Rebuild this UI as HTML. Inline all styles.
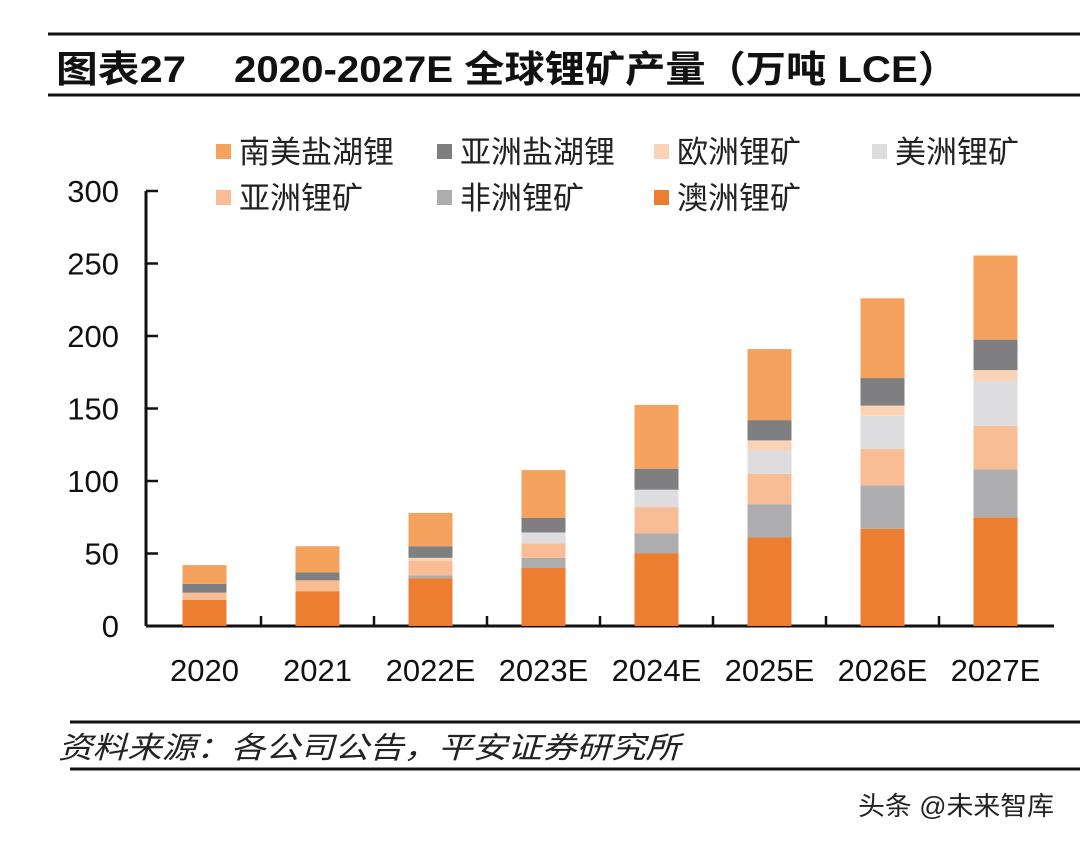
<!DOCTYPE html>
<html><head><meta charset="utf-8">
<style>
html,body{margin:0;padding:0;background:#fff;}
svg{display:block;}
text{font-family:"Liberation Sans","Noto Sans CJK SC",sans-serif;}
</style></head>
<body>
<svg id="chart" width="1080" height="841" viewBox="0 0 1080 841">
<rect x="0" y="0" width="1080" height="841" fill="#fff"/>
<line x1="48" y1="34" x2="1080" y2="34" stroke="#111" stroke-width="3"/>
<text x="56" y="82" font-size="37" font-weight="bold" fill="#111" textLength="130" lengthAdjust="spacingAndGlyphs">图表27</text>
<text x="234" y="82" font-size="37" font-weight="bold" fill="#111" textLength="724" lengthAdjust="spacingAndGlyphs">2020-2027E 全球锂矿产量（万吨 LCE）</text>
<line x1="48" y1="95" x2="1080" y2="95" stroke="#111" stroke-width="3"/>
<g id="legend"></g>
<g id="axes"></g>
<g id="bars"></g>
<line x1="70" y1="722" x2="1080" y2="722" stroke="#111" stroke-width="3"/>
<text x="58" y="758" font-size="30" font-style="italic" fill="#222" textLength="622" lengthAdjust="spacingAndGlyphs">资料来源：各公司公告，平安证券研究所</text>
<line x1="70" y1="769" x2="1080" y2="769" stroke="#111" stroke-width="3"/>
<text x="858" y="815" font-size="26" fill="#222" textLength="196" lengthAdjust="spacingAndGlyphs">头条 @未来智库</text>
</svg>
<script>
const categories = ["2020","2021","2022E","2023E","2024E","2025E","2026E","2027E"];
const seriesNames = ["澳洲锂矿","非洲锂矿","亚洲锂矿","美洲锂矿","欧洲锂矿","亚洲盐湖锂","南美盐湖锂"];
const australia = [18,24,33,40,50,61,67,75];
const africa = [0,0,2,7,14,23,30,33];
const asiaMine = [5,7.5,10,10,18,21,25,30];
const americas = [0,0,0,7.5,12,16,23,31];
const europe = [0,0,2,0,0,7,7,7.5];
const asiaSalt = [6,5.5,8,10,14.5,14,19,21];
const southAmerica = [13,18,23,33,44,49,55,58];
const yTicks = [0,50,100,150,200,250,300];

const seriesData = [australia,africa,asiaMine,americas,europe,asiaSalt,southAmerica];
const colors = ["#ED7D31","#ADADB0","#F8BD94","#DDDDDF","#FAD3B6","#7F7F81","#F4A25E"];
const NS = "http://www.w3.org/2000/svg";
const x0 = 146, x1 = 1050, yBase = 626, yTop = 191;
const y = v => yBase - (v/300)*(yBase-yTop);
const band = (x1-x0)/categories.length;
const xc = i => x0 + band*(i+0.5) + 2;
const barW = 44;
function mk(tag, attrs, parent){const e=document.createElementNS(NS,tag);for(const k in attrs)e.setAttribute(k,attrs[k]);parent.appendChild(e);return e;}

const axes = document.getElementById('axes');
const yAxis = mk('line',{x1:x0,y1:yTop,x2:x0,y2:yBase,stroke:'#111','stroke-width':3},axes);


const xAxis = mk('line',{x1:x0,y1:yBase,x2:x1+4,y2:yBase,stroke:'#111','stroke-width':3},axes);


yTicks.forEach(t=>{
  const tk = mk('line',{x1:x0,y1:y(t),x2:x0+12,y2:y(t),stroke:'#111','stroke-width':2.5},axes);
  
  
  const lb = mk('text',{x:119,y:y(t)+11,'font-size':31,'text-anchor':'end',fill:'#111'},axes);
  lb.textContent = t;
  
  
});
categories.forEach((c,i)=>{
  if(i>0){
    const tk = mk('line',{x1:x0+band*i+2,y1:yBase,x2:x0+band*i+2,y2:yBase-10,stroke:'#111','stroke-width':2.5},axes);
    
    
  }
  const lb = mk('text',{x:xc(i),y:681,'font-size':31,'text-anchor':'middle',fill:'#111'},axes);
  lb.textContent = c;
  
  
});

const bars = document.getElementById('bars');
categories.forEach((c,i)=>{
  let cum = 0;
  seriesData.forEach((s,k)=>{
    const v = s[i];
    if(v<=0) return;
    const r = mk('rect',{x:xc(i)-barW/2,y:y(cum+v),width:barW,height:y(cum)-y(cum+v),fill:colors[k]},bars);
    
    
    cum += v;
  });
});

const legend = document.getElementById('legend');
const legendOrder = [6,5,4,3,2,1,0];
const legX = [216,437,654,872];
legendOrder.forEach((k,j)=>{
  const row = Math.floor(j/4), col = j%4;
  const lx = legX[col], ly = 152 + row*46;
  const sq = mk('rect',{x:lx,y:ly-8,width:15,height:15,fill:colors[k]},legend);
  
  
  const t = mk('text',{x:lx+23,y:ly+11,'font-size':31,fill:'#222'},legend);
  t.textContent = seriesNames[k];
  
  
});
</script>
</body></html>
